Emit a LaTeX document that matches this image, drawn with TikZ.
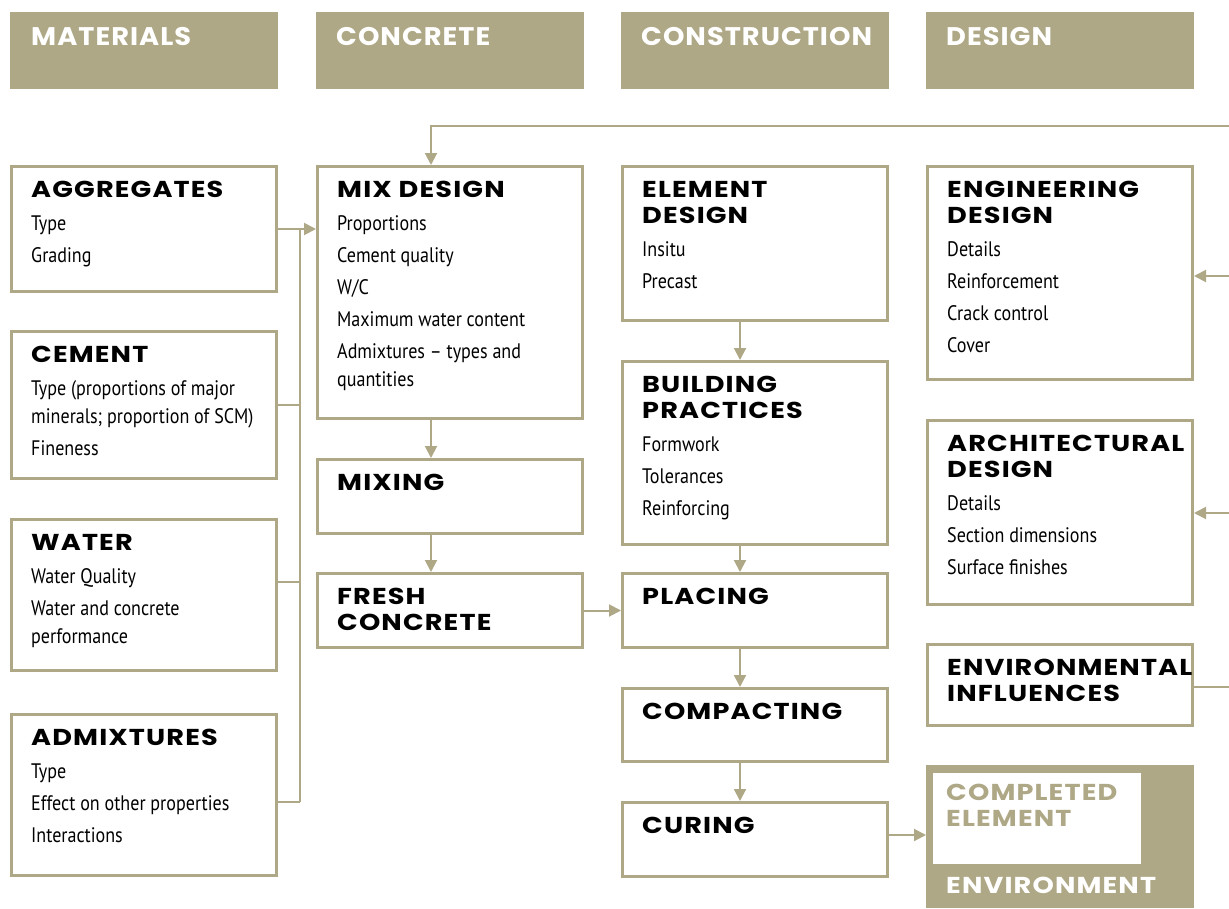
\documentclass[tikz,border=0pt]{standalone}
\usepackage{fontspec}
\usetikzlibrary{arrows.meta}
\newfontfamily\hfont{Poppins}[LetterSpace=5,FakeStretch=1.18]
\newfontfamily\headfont{Poppins}[LetterSpace=4,FakeStretch=1.07]
\newfontfamily\bfont{PT Sans}[FakeStretch=0.86]
\definecolor{khaki}{HTML}{AEA886}
\newcommand\ttl{\hfont\bfseries\fontsize{23}{26.5}\selectfont}
\newcommand\bdy{\par\vspace{5pt}\bfont\mdseries\fontsize{21}{28}\selectfont}
\newcommand\itm{\\[4pt]}
\tikzset{
  box/.style={draw=khaki, line width=3pt, fill=white, anchor=north west, inner sep=0pt, outer sep=1.5pt},
  hdr/.style={fill=khaki, anchor=north west, inner sep=0pt, outer sep=0pt, minimum width=268, minimum height=77},
  hdrtext/.style={anchor=base west, inner sep=0pt, text=white, font=\headfont\bfseries\fontsize{25.5}{30}\selectfont},
  txt/.style={anchor=base west, inner sep=0pt, align=left},
  conn/.style={draw=khaki, line width=2pt},
  arr/.style={conn, -{Triangle[length=12pt,width=12pt]}}
}
\newcommand\bx[5]{\node[box, minimum width={#4-#2-3}, minimum height={#5-#3-3}] (#1) at (#2,#3) {};}
\newcommand\tx[4]{\node[txt] (#1) at ({#2+21},{#3+32}) {\begin{minipage}[t]{250pt}\raggedright#4\end{minipage}};}
\begin{document}
\begin{tikzpicture}[x=1pt,y=-1pt]
\useasboundingbox (0,0) rectangle (1229,908);
% headers
\node[hdr] (hmat) at (10,12) {};
\node[hdr] (hcon) at (316,12) {};
\node[hdr] (hcst) at (621,12) {};
\node[hdr] (hdes) at (926,12) {};
\node[hdrtext] (hmatt) at (31,45) {MATERIALS};
\node[hdrtext] (hcont) at (336,45) {CONCRETE};
\node[hdrtext] (hcstt) at (641,45) {CONSTRUCTION};
\node[hdrtext] (hdest) at (946,45) {DESIGN};
% boxes
\bx{agg}{10}{165}{278}{293}
\bx{cem}{10}{330}{278}{480}
\bx{wat}{10}{518}{278}{672}
\bx{adm}{10}{713}{278}{877}
\bx{mix}{316}{165}{584}{420}
\bx{mixg}{316}{458}{584}{535}
\bx{fre}{316}{572}{584}{649}
\bx{ele}{621}{165}{889}{322}
\bx{bld}{621}{360}{889}{546}
\bx{pla}{621}{572}{889}{649}
\bx{cmp}{621}{687}{889}{763}
\bx{cur}{621}{801}{889}{878}
\bx{eng}{926}{165}{1194}{381}
\bx{arc}{926}{419}{1194}{606}
\bx{einf}{926}{643}{1194}{727}
% environment block
\node[fill=khaki, anchor=north west, inner sep=0pt, outer sep=0pt, minimum width=268, minimum height=143] (env) at (926,765) {};
\node[fill=white, anchor=north west, inner sep=0pt, outer sep=0pt, minimum width=208, minimum height=91] (comp) at (933,773) {};
\node[txt, text=khaki] (compt) at (946,800) {\begin{minipage}[t]{200pt}\ttl COMPLETED\\ELEMENT\end{minipage}};
\node[txt, text=white] (envt) at (946,893) {\ttl ENVIRONMENT};
% texts
\tx{aggt}{10}{165}{\ttl AGGREGATES\bdy Type\itm Grading}
\tx{cemt}{10}{330}{\ttl CEMENT\bdy Type (proportions of major\\minerals; proportion of SCM)\itm Fineness}
\tx{watt}{10}{518}{\ttl WATER\bdy Water Quality\itm Water and concrete\\performance}
\tx{admt}{10}{713}{\ttl ADMIXTURES\bdy Type\itm Effect on other properties\itm Interactions}
\tx{mixt}{316}{165}{\ttl MIX DESIGN\bdy Proportions\itm Cement quality\itm W/C\itm Maximum water content\itm Admixtures – types and\\quantities}
\tx{mixgt}{316}{458}{\ttl MIXING}
\tx{fret}{316}{572}{\ttl FRESH\\CONCRETE}
\tx{elet}{621}{165}{\ttl ELEMENT\\DESIGN\bdy Insitu\itm Precast}
\tx{bldt}{621}{360}{\ttl BUILDING\\PRACTICES\bdy Formwork\itm Tolerances\itm Reinforcing}
\tx{plat}{621}{572}{\ttl PLACING}
\tx{cmpt}{621}{687}{\ttl COMPACTING}
\tx{curt}{621}{801}{\ttl CURING}
\tx{engt}{926}{165}{\ttl ENGINEERING\\DESIGN\bdy Details\itm Reinforcement\itm Crack control\itm Cover}
\tx{arct}{926}{419}{\ttl ARCHITECTURAL\\DESIGN\bdy Details\itm Section dimensions\itm Surface finishes}
\tx{einft}{926}{643}{\ttl ENVIRONMENTAL\\INFLUENCES}
% connectors
\coordinate (b1) at (300,229);
\coordinate (b2) at (300,405);
\coordinate (b3) at (300,582);
\coordinate (b4) at (300,802);
\draw[conn] (b1) -- (b4);
\draw[arr] (agg.east) -- (mix.west |- agg.east);
\draw[conn] (cem.east |- b2) -- (b2);
\draw[conn] (wat.east |- b3) -- (b3);
\draw[conn] (adm.east |- b4) -- (b4);
\coordinate (rt) at (1229,126);
\coordinate (tl) at (431,126);
\draw[arr] (rt) -- (tl) -- (tl |- mix.north);
\draw[arr] (mix.south -| tl) -- (mixg.north -| tl);
\draw[arr] (mixg.south -| tl) -- (fre.north -| tl);
\draw[arr] (fre.east) -- (pla.west |- fre.east);
\coordinate (cx) at (740,0);
\draw[arr] (ele.south -| cx) -- (bld.north -| cx);
\draw[arr] (bld.south -| cx) -- (pla.north -| cx);
\draw[arr] (pla.south -| cx) -- (cmp.north -| cx);
\draw[arr] (cmp.south -| cx) -- (cur.north -| cx);
\coordinate (ce) at (0,835);
\draw[arr] (cur.east |- ce) -- (env.west |- ce);
\coordinate (r1) at (1229,276);
\coordinate (r2) at (1229,513);
\coordinate (r3) at (1229,687);
\draw[arr] (r1) -- (eng.east |- r1);
\draw[arr] (r2) -- (arc.east |- r2);
\draw[conn] (einf.east |- r3) -- (r3);
\end{tikzpicture}
\end{document}
